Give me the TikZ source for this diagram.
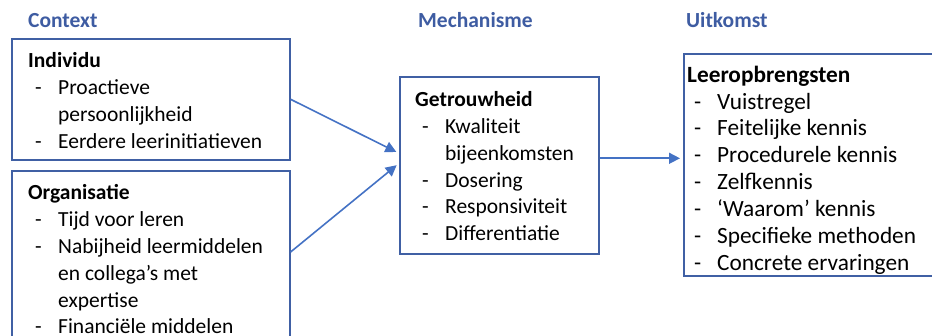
\documentclass[tikz,border=0pt]{standalone}
\usepackage{fontspec}
\setmainfont{Carlito}
\usetikzlibrary{arrows.meta, calc}
\tikzset{every node/.style={font=\fontsize{21.5}{26.8}\selectfont}}

% Opsommingstekens
\newcommand{\itm}{\hspace*{7pt}\makebox[23pt][l]{-}}
\newcommand{\vrv}{\hspace*{30pt}}

\begin{document}
\begin{tikzpicture}[x=1pt, y=-1pt, >={Triangle[length=11pt, width=11pt]}]
  % Vaste bounding box (pixels van het origineel)
  \path[use as bounding box] (0,0) rectangle (932,336);

  % Kleuren.
  \definecolor{kopcol}{RGB}{62,92,162}
  \definecolor{kadercol}{RGB}{64,96,164}
  \definecolor{pijlcol}{RGB}{68,114,196}

  % Stijlen; tekstnodes staan op de basislijn van hun laatste regel.
  \tikzset{
    kop/.style={font=\fontsize{21.5}{26}\selectfont\bfseries, text=kopcol, inner sep=0, anchor=base west},
    kader/.style={draw=kadercol, line width=1.6pt, inner sep=0, anchor=north west},
    tekst/.style={align=left, inner sep=0, anchor=base west},
    pijl/.style={->, draw=pijlcol, line width=1.6pt, shorten >=3pt}
  }

  % Kolomkoppen.
  \node[kop] (hcontext) at (28,28) {Context};
  \node[kop] (hmech) at (418,28) {Mechanisme};
  \node[kop] (huitkomst) at (686,28) {Uitkomst};

  % Kaders.
  \node[kader, minimum width=278, minimum height=121] (individu) at (11,38) {};
  \node[kader, minimum width=278, minimum height=180] (organisatie) at (11,170) {};
  \node[kader, minimum width=199, minimum height=177] (getrouwheid) at (399,76) {};
  \node[kader, minimum width=267, minimum height=222] (leer) at (683,53) {};

  % Teksten in de kaders.
  \node[tekst] (tindividu) at (28,148.4) {\textbf{Individu}\\
    \itm Proactieve\\ \vrv persoonlijkheid\\
    \itm Eerdere leerinitiatieven};
  \node[tekst] (torganisatie) at (28,334) {\textbf{Organisatie}\\
    \itm Tijd voor leren\\
    \itm Nabijheid leermiddelen\\ \vrv en collega’s met\\ \vrv expertise\\
    \itm Financiële middelen};
  \node[tekst] (tgetrouwheid) at (415,240.7) {\textbf{Getrouwheid}\\
    \itm Kwaliteit\\ \vrv bijeenkomsten\\
    \itm Dosering\\
    \itm Responsiviteit\\
    \itm Differentiatie};
  \node[tekst, font=\fontsize{23.3}{26.9}\selectfont] (tleer) at (687,270.5) {\textbf{Leeropbrengsten}\\
    \itm Vuistregel\\
    \itm Feitelijke kennis\\
    \itm Procedurele kennis\\
    \itm Zelfkennis\\
    \itm ‘Waarom’ kennis\\
    \itm Specifieke methoden\\
    \itm Concrete ervaringen};

  % Aankomst- en vertrekpunten van de pijlen.
  \coordinate (in1) at ($(getrouwheid.west)+(0,-12)$);
  \coordinate (in2) at ($(getrouwheid.west)+(0,-2)$);
  \coordinate (uit2) at (organisatie.east |- 0,252);
  \coordinate (uit3) at ($(getrouwheid.east)+(0,-7)$);

  % Pijlen.
  \draw[pijl] (individu.east) -- (in1);
  \draw[pijl] (uit2) -- (in2);
  \draw[pijl] (uit3) -- (uit3 -| leer.west);
\end{tikzpicture}
\end{document}
